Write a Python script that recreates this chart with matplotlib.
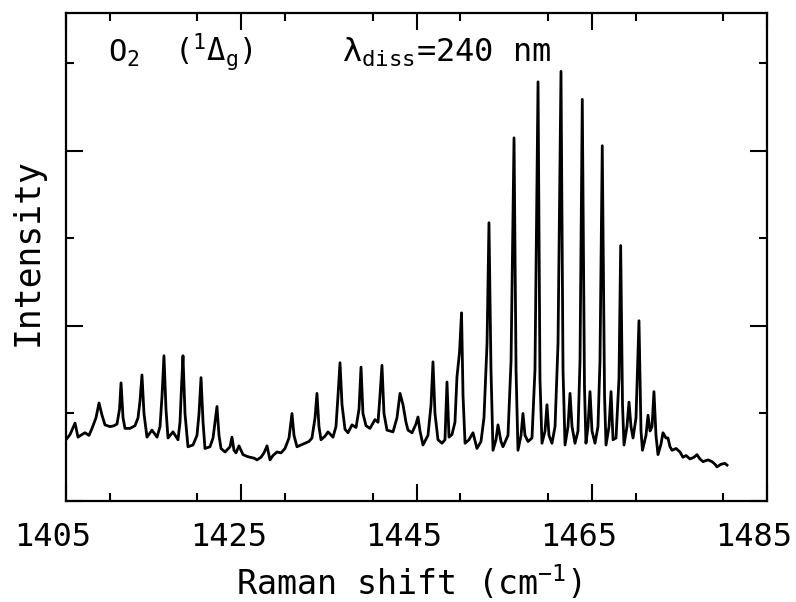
import matplotlib
matplotlib.use("Agg")
import matplotlib.pyplot as plt
import matplotlib.transforms as mtransforms
from matplotlib.ticker import MultipleLocator

plt.rcParams['font.family'] = ['DejaVu Sans Mono', 'DejaVu Sans']
plt.rcParams['mathtext.fontset'] = 'custom'
plt.rcParams['mathtext.rm'] = 'DejaVu Sans Mono'
plt.rcParams['mathtext.it'] = 'DejaVu Sans Mono'
plt.rcParams['mathtext.bf'] = 'DejaVu Sans Mono:bold'

# Raman shift (cm^-1) and intensity (arb. units) of the traced spectrum
shift = [
    1405.00, 1405.46, 1406.03, 1406.37, 1406.83, 1407.17, 1407.62, 1407.97,
    1408.42, 1408.77, 1409.11, 1409.45, 1410.02, 1410.48, 1410.82, 1411.11,
    1411.28, 1411.51, 1411.73, 1412.30, 1412.87, 1413.22, 1413.45, 1413.67,
    1413.90, 1414.24, 1414.81, 1415.39, 1415.73, 1415.96, 1416.18, 1416.41,
    1416.64, 1417.21, 1417.78, 1418.01, 1418.18, 1418.35, 1418.58, 1418.92,
    1419.49, 1419.95, 1420.18, 1420.41, 1420.64, 1420.86, 1421.43, 1421.78,
    1422.00, 1422.23, 1422.46, 1422.69, 1423.15, 1423.72, 1423.94, 1424.17,
    1424.40, 1424.74, 1425.20, 1425.66, 1426.00, 1426.46, 1426.80, 1427.25,
    1427.60, 1427.94, 1428.28, 1428.62, 1429.08, 1429.54, 1429.99, 1430.45,
    1430.79, 1431.02, 1431.36, 1431.82, 1432.28, 1432.73, 1433.07, 1433.42,
    1433.64, 1433.87, 1434.10, 1434.56, 1434.90, 1435.47, 1435.81, 1436.04,
    1436.27, 1436.50, 1436.84, 1437.18, 1437.64, 1438.10, 1438.44, 1438.67,
    1438.89, 1439.24, 1439.69, 1440.26, 1440.61, 1440.83, 1441.06, 1441.29,
    1441.63, 1442.32, 1442.77, 1443.12, 1443.46, 1443.80, 1444.03, 1444.49,
    1444.94, 1445.17, 1445.40, 1445.74, 1446.31, 1446.66, 1446.88, 1447.11,
    1447.45, 1447.91, 1448.25, 1448.48, 1448.71, 1449.05, 1449.39, 1449.62,
    1449.91, 1450.14, 1450.31, 1450.54, 1450.99, 1451.45, 1451.90, 1452.36,
    1452.70, 1453.05, 1453.27, 1453.50, 1453.73, 1454.07, 1454.30, 1454.64,
    1454.87, 1455.44, 1455.79, 1456.13, 1456.36, 1456.58, 1456.93, 1457.15,
    1457.38, 1457.73, 1458.18, 1458.52, 1458.87, 1459.09, 1459.32, 1459.67,
    1459.89, 1460.12, 1460.46, 1460.81, 1461.15, 1461.49, 1461.72, 1461.95,
    1462.29, 1462.52, 1462.75, 1463.09, 1463.43, 1463.66, 1463.92, 1464.17,
    1464.34, 1464.57, 1464.80, 1465.03, 1465.37, 1465.71, 1465.94, 1466.20,
    1466.46, 1466.63, 1466.97, 1467.20, 1467.43, 1467.77, 1468.11, 1468.30,
    1468.51, 1468.68, 1469.02, 1469.25, 1469.48, 1469.71, 1470.05, 1470.39,
    1470.62, 1470.79, 1471.19, 1471.42, 1471.65, 1471.88, 1472.10, 1472.33,
    1472.56, 1472.90, 1473.13, 1473.47, 1473.70, 1473.93, 1474.16, 1474.62,
    1475.07, 1475.41, 1475.76, 1476.21, 1476.67, 1477.01, 1477.35, 1477.70,
    1478.27, 1478.72, 1479.07, 1479.29, 1479.75, 1480.21, 1480.44,
]
intensity = [
    0.70, 0.76, 0.89, 0.73, 0.76, 0.78, 0.75, 0.83,
    0.95, 1.12, 0.98, 0.87, 0.85, 0.86, 0.88, 1.05,
    1.35, 0.95, 0.83, 0.83, 0.86, 0.95, 1.15, 1.44,
    1.00, 0.73, 0.81, 0.73, 0.85, 1.20, 1.66, 1.05,
    0.72, 0.79, 0.70, 0.90, 1.30, 1.66, 1.00, 0.62,
    0.64, 0.75, 1.00, 1.41, 0.90, 0.60, 0.62, 0.72,
    0.90, 1.08, 0.75, 0.60, 0.56, 0.62, 0.73, 0.58,
    0.55, 0.63, 0.53, 0.51, 0.50, 0.49, 0.47, 0.50,
    0.55, 0.63, 0.47, 0.52, 0.56, 0.55, 0.60, 0.72,
    1.00, 0.75, 0.62, 0.64, 0.66, 0.68, 0.72, 0.95,
    1.23, 0.85, 0.70, 0.74, 0.79, 0.73, 0.85, 1.20,
    1.58, 1.10, 0.82, 0.78, 0.87, 0.84, 1.05, 1.53,
    1.00, 0.86, 0.83, 0.93, 0.90, 1.20, 1.55, 1.00,
    0.81, 0.79, 0.95, 1.23, 1.10, 0.90, 0.81, 0.78,
    0.88, 0.96, 0.80, 0.64, 0.75, 1.10, 1.59, 1.00,
    0.70, 0.66, 0.70, 1.36, 0.73, 0.76, 0.90, 1.42,
    1.70, 2.15, 1.20, 0.66, 0.70, 0.78, 0.60, 0.68,
    0.95, 1.80, 3.18, 1.50, 0.58, 0.70, 0.87, 0.68,
    0.62, 0.75, 1.60, 4.15, 1.50, 0.58, 0.75, 1.00,
    0.75, 0.68, 0.72, 1.50, 4.79, 1.40, 0.66, 0.80,
    1.10, 0.75, 0.66, 0.85, 1.80, 4.91, 1.50, 0.64,
    0.85, 1.23, 0.85, 0.66, 0.80, 1.60, 4.59, 1.30,
    0.66, 0.85, 1.25, 0.80, 0.66, 0.85, 1.60, 4.06,
    1.20, 0.64, 0.85, 1.25, 0.70, 0.72, 1.40, 2.92,
    1.10, 0.64, 0.85, 1.13, 0.85, 0.72, 0.95, 2.06,
    0.80, 0.58, 0.75, 0.98, 0.80, 0.85, 1.25, 0.75,
    0.53, 0.65, 0.78, 0.72, 0.72, 0.62, 0.58, 0.60,
    0.56, 0.50, 0.52, 0.48, 0.50, 0.53, 0.48, 0.45,
    0.47, 0.45, 0.42, 0.39, 0.42, 0.43, 0.41,
]

x_major = [1405, 1425, 1445, 1465, 1485]
x_labels = ['1405', '1425', '1445', '1465', '1485']

fig = plt.figure(figsize=(7.96, 6.02), dpi=100)
ax = fig.add_axes([66 / 796, 101 / 602, 701 / 796, 488 / 602])

ax.plot(shift, intensity, color='black', lw=2.0, solid_joinstyle='round')

ax.set_xlim(1405, 1485)
ax.set_ylim(0, 5.577)

ax.set_xticks(x_major)
ax.xaxis.set_minor_locator(MultipleLocator(10))
ax.yaxis.set_major_locator(MultipleLocator(2))
ax.yaxis.set_minor_locator(MultipleLocator(1))

ax.tick_params(which='both', direction='in', top=True, right=True,
               width=1.5, colors='black', labelbottom=False, labelleft=False)
ax.tick_params(which='major', length=12)
ax.tick_params(which='minor', length=6)

# tick labels sit slightly left of their ticks, as on the plotter output
label_trans = mtransforms.blended_transform_factory(ax.transData, ax.transAxes)
label_nudge = mtransforms.ScaledTranslation(-0.13, 0, fig.dpi_scale_trans)
for xv, lab in zip(x_major, x_labels):
    ax.text(xv, -0.043, lab, fontsize=23, ha='center', va='top',
            transform=label_trans + label_nudge, clip_on=False)

for sp in ax.spines.values():
    sp.set_linewidth(1.6)
    sp.set_color('black')

ax.set_xlabel('Raman shift (cm$^{-1}$)', fontsize=24)
ax.xaxis.set_label_coords(0.49, -0.128)
ax.set_ylabel('Intensity', fontsize=25)
ax.yaxis.set_label_coords(-0.03, 0.51)

ax.text(1409.8, 5.02, 'O$_2$', fontsize=22, va='baseline', ha='left')
ax.text(1417.3, 5.02, r'($^1\Delta_g$)', fontsize=22, va='baseline', ha='left')
ax.text(1436.5, 5.02, r'$\lambda_{diss}$=240 nm', fontsize=23,
        va='baseline', ha='left')

fig.savefig('out.png', dpi=100)
